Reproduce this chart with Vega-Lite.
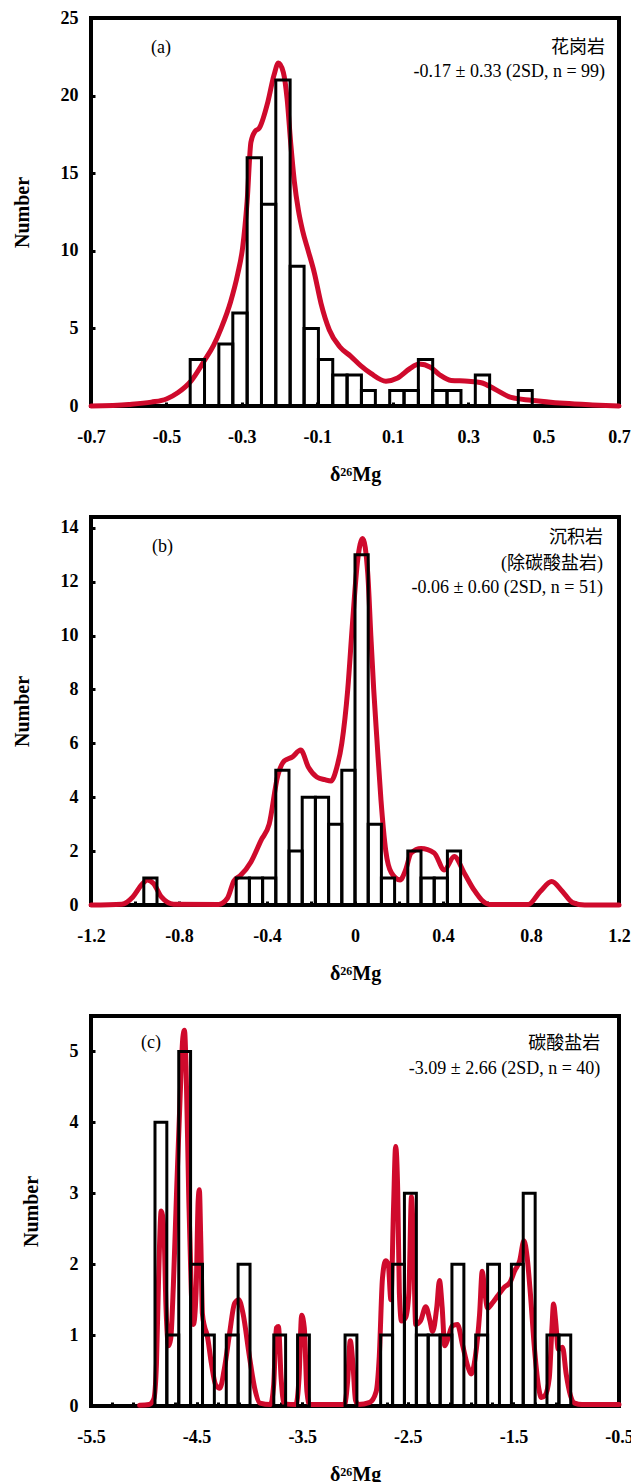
{
  "$schema": "https://vega.github.io/schema/vega-lite/v6.json",
  "background": "white",
  "padding": {"left": 10, "top": 7, "right": 0, "bottom": 0},
  "spacing": 29,
  "config": {
    "view": {"stroke": "black", "strokeWidth": 4},
    "axis": {
      "domain": false, "grid": false, "ticks": true,
      "tickColor": "black", "tickWidth": 3, "tickSize": -4,
      "labelFont": "Liberation Serif", "labelFontWeight": "bold", "labelFontSize": 18, "labelColor": "black",
      "titleFont": "Liberation Serif", "titleFontWeight": "bold", "titleColor": "black", "titleFontSize": 20,
      "labelFlush": false, "labelOverlap": false, "labelBound": false
    },
    "axisX": {"labelPadding": 26, "titlePadding": 18},
    "axisY": {"labelPadding": 17, "titlePadding": 28}
  },
  "vconcat": [
    {
      "width": 528, "height": 388,
      "layer": [
        {
          "data": {"values": [
            {"d": -0.7, "v": 0}, {"d": -0.6, "v": 0.1}, {"d": -0.54, "v": 0.25}, {"d": -0.5, "v": 0.45}, {"d": -0.47, "v": 0.85},
            {"d": -0.435, "v": 1.6}, {"d": -0.4, "v": 2.9}, {"d": -0.375, "v": 3.9}, {"d": -0.355, "v": 5.0}, {"d": -0.33, "v": 6.7},
            {"d": -0.311, "v": 8.5}, {"d": -0.298, "v": 10.2}, {"d": -0.286, "v": 13.2}, {"d": -0.276, "v": 17.0}, {"d": -0.265, "v": 17.7},
            {"d": -0.254, "v": 17.9}, {"d": -0.231, "v": 19.6}, {"d": -0.215, "v": 21.3}, {"d": -0.203, "v": 22.1}, {"d": -0.19, "v": 21.5},
            {"d": -0.18, "v": 19.8}, {"d": -0.17, "v": 16.8}, {"d": -0.161, "v": 14.5}, {"d": -0.15, "v": 12.6}, {"d": -0.139, "v": 11.3},
            {"d": -0.124, "v": 10.0}, {"d": -0.108, "v": 8.6}, {"d": -0.09, "v": 6.6}, {"d": -0.068, "v": 4.9}, {"d": -0.04, "v": 3.8},
            {"d": -0.011, "v": 3.2}, {"d": 0.015, "v": 2.6}, {"d": 0.042, "v": 2.1}, {"d": 0.082, "v": 1.6}, {"d": 0.113, "v": 1.8},
            {"d": 0.145, "v": 2.4}, {"d": 0.17, "v": 2.7}, {"d": 0.2, "v": 2.5}, {"d": 0.225, "v": 2.0}, {"d": 0.255, "v": 1.65},
            {"d": 0.3, "v": 1.6}, {"d": 0.335, "v": 1.5}, {"d": 0.37, "v": 1.1}, {"d": 0.414, "v": 0.55}, {"d": 0.467, "v": 0.37},
            {"d": 0.555, "v": 0.17}, {"d": 0.63, "v": 0.07}, {"d": 0.7, "v": 0}
          ]},
          "mark": {"type": "line", "color": "#cf0a2c", "strokeWidth": 5, "interpolate": "monotone", "strokeCap": "round"},
          "encoding": {
            "x": {"field": "d", "type": "quantitative", "scale": {"domain": [-0.7, 0.7], "nice": false, "zero": false},
                  "axis": {"title": "δ²⁶Mg", "labelOverlap": false, "values": [-0.7, -0.5, -0.3, -0.1, 0.1, 0.3, 0.5, 0.7],
                           "labelExpr": "replace(format(datum.value, '.1f'), '−', '-')"}},
            "y": {"field": "v", "type": "quantitative", "scale": {"domain": [0, 25], "nice": false},
                  "axis": {"title": "Number", "labelOverlap": false, "values": [0, 5, 10, 15, 20, 25],
                           "labelExpr": "format(datum.value, 'd')"}}
          }
        },
        {
          "data": {"values": [
            {"d0": -0.437, "d1": -0.399, "n": 3}, {"d0": -0.361, "d1": -0.324, "n": 4}, {"d0": -0.324, "d1": -0.286, "n": 6},
            {"d0": -0.286, "d1": -0.248, "n": 16}, {"d0": -0.248, "d1": -0.21, "n": 13}, {"d0": -0.21, "d1": -0.172, "n": 21},
            {"d0": -0.172, "d1": -0.135, "n": 9}, {"d0": -0.135, "d1": -0.097, "n": 5}, {"d0": -0.097, "d1": -0.059, "n": 3},
            {"d0": -0.059, "d1": -0.021, "n": 2}, {"d0": -0.021, "d1": 0.017, "n": 2}, {"d0": 0.017, "d1": 0.054, "n": 1},
            {"d0": 0.092, "d1": 0.13, "n": 1}, {"d0": 0.13, "d1": 0.168, "n": 1}, {"d0": 0.168, "d1": 0.206, "n": 3},
            {"d0": 0.206, "d1": 0.244, "n": 1}, {"d0": 0.244, "d1": 0.281, "n": 1}, {"d0": 0.319, "d1": 0.357, "n": 2},
            {"d0": 0.433, "d1": 0.47, "n": 1}
          ]},
          "mark": {"type": "rect", "fill": "white", "fillOpacity": 0, "stroke": "black", "strokeWidth": 3},
          "encoding": {
            "x": {"field": "d0", "type": "quantitative", "scale": {"domain": [-0.7, 0.7], "nice": false, "zero": false}},
            "x2": {"field": "d1"},
            "y": {"field": "n", "type": "quantitative", "scale": {"domain": [0, 25], "nice": false}},
            "y2": {"datum": 0}
          }
        },
        {
          "data": {"values": [
            {"d": -0.488, "v": 23.09, "t": "(a)"},
            {"d": 0.663, "v": 23.09, "t": "花岗岩"},
            {"d": 0.663, "v": 21.52, "t": "-0.17 ± 0.33 (2SD, n = 99)"}
          ]},
          "mark": {"type": "text", "align": "right", "baseline": "middle", "font": "Liberation Serif, Noto Sans CJK SC", "fontSize": 18, "color": "black"},
          "encoding": {
            "x": {"field": "d", "type": "quantitative", "scale": {"domain": [-0.7, 0.7], "nice": false, "zero": false}},
            "y": {"field": "v", "type": "quantitative", "scale": {"domain": [0, 25], "nice": false}},
            "text": {"field": "t"}
          }
        }
      ]
    },
    {
      "width": 528, "height": 388,
      "layer": [
        {
          "data": {"values": [
            {"d": -1.2, "v": 0}, {"d": -1.06, "v": 0.03}, {"d": -1.01, "v": 0.3}, {"d": -0.97, "v": 0.75}, {"d": -0.944, "v": 0.93},
            {"d": -0.916, "v": 0.8}, {"d": -0.88, "v": 0.3}, {"d": -0.824, "v": 0.03}, {"d": -0.62, "v": 0.02}, {"d": -0.58, "v": 0.25},
            {"d": -0.55, "v": 0.9}, {"d": -0.52, "v": 1.1}, {"d": -0.473, "v": 1.6}, {"d": -0.427, "v": 2.4}, {"d": -0.39, "v": 3.0},
            {"d": -0.351, "v": 4.8}, {"d": -0.321, "v": 5.35}, {"d": -0.284, "v": 5.5}, {"d": -0.247, "v": 5.75}, {"d": -0.211, "v": 5.1},
            {"d": -0.174, "v": 4.75}, {"d": -0.137, "v": 4.65}, {"d": -0.109, "v": 4.6}, {"d": -0.083, "v": 5.1}, {"d": -0.06, "v": 6.0},
            {"d": -0.033, "v": 8.0}, {"d": -0.011, "v": 10.5}, {"d": 0.012, "v": 12.8}, {"d": 0.035, "v": 13.6}, {"d": 0.058, "v": 12.3},
            {"d": 0.072, "v": 10.0}, {"d": 0.085, "v": 8.0}, {"d": 0.1, "v": 6.1}, {"d": 0.118, "v": 3.9}, {"d": 0.14, "v": 2.0},
            {"d": 0.165, "v": 1.2}, {"d": 0.205, "v": 0.93}, {"d": 0.23, "v": 1.3}, {"d": 0.255, "v": 1.93}, {"d": 0.3, "v": 2.1},
            {"d": 0.36, "v": 1.93}, {"d": 0.406, "v": 1.3}, {"d": 0.451, "v": 1.8}, {"d": 0.497, "v": 1.18}, {"d": 0.541, "v": 0.56},
            {"d": 0.58, "v": 0.15}, {"d": 0.61, "v": 0.02}, {"d": 0.787, "v": 0.02}, {"d": 0.842, "v": 0.5}, {"d": 0.894, "v": 0.87},
            {"d": 0.943, "v": 0.5}, {"d": 0.989, "v": 0.09}, {"d": 1.044, "v": 0}, {"d": 1.2, "v": 0}
          ]},
          "mark": {"type": "line", "color": "#cf0a2c", "strokeWidth": 5, "interpolate": "monotone", "strokeCap": "round"},
          "encoding": {
            "x": {"field": "d", "type": "quantitative", "scale": {"domain": [-1.2, 1.2], "nice": false, "zero": false},
                  "axis": {"title": "δ²⁶Mg", "labelOverlap": false,
                           "values": [-1.2, -1.1, -1.0, -0.9, -0.8, -0.7, -0.6, -0.5, -0.4, -0.3, -0.2, -0.1, 0, 0.1, 0.2, 0.3, 0.4, 0.5, 0.6, 0.7, 0.8, 0.9, 1.0, 1.1, 1.2],
                           "labelExpr": "round(datum.value*10) % 4 == 0 ? (abs(datum.value) < 0.001 ? '0' : replace(format(datum.value, '.1f'), '−', '-')) : ''"}},
            "y": {"field": "v", "type": "quantitative", "scale": {"domain": [0, 14.4], "nice": false},
                  "axis": {"title": "Number", "labelOverlap": false, "values": [0, 1, 2, 3, 4, 5, 6, 7, 8, 9, 10, 11, 12, 13, 14],
                           "labelExpr": "datum.value % 2 == 0 ? format(datum.value, 'd') : ''"}}
          }
        },
        {
          "data": {"values": [
            {"d0": -0.96, "d1": -0.9, "n": 1}, {"d0": -0.54, "d1": -0.48, "n": 1}, {"d0": -0.48, "d1": -0.42, "n": 1},
            {"d0": -0.42, "d1": -0.36, "n": 1}, {"d0": -0.36, "d1": -0.3, "n": 5}, {"d0": -0.3, "d1": -0.24, "n": 2},
            {"d0": -0.24, "d1": -0.18, "n": 4}, {"d0": -0.18, "d1": -0.12, "n": 4}, {"d0": -0.12, "d1": -0.06, "n": 3},
            {"d0": -0.06, "d1": 0, "n": 5}, {"d0": 0, "d1": 0.06, "n": 13}, {"d0": 0.06, "d1": 0.12, "n": 3},
            {"d0": 0.12, "d1": 0.18, "n": 1}, {"d0": 0.24, "d1": 0.3, "n": 2}, {"d0": 0.3, "d1": 0.36, "n": 1},
            {"d0": 0.36, "d1": 0.42, "n": 1}, {"d0": 0.42, "d1": 0.48, "n": 2}
          ]},
          "mark": {"type": "rect", "fill": "white", "fillOpacity": 0, "stroke": "black", "strokeWidth": 3},
          "encoding": {
            "x": {"field": "d0", "type": "quantitative", "scale": {"domain": [-1.2, 1.2], "nice": false, "zero": false}},
            "x2": {"field": "d1"},
            "y": {"field": "n", "type": "quantitative", "scale": {"domain": [0, 14.4], "nice": false}},
            "y2": {"datum": 0}
          }
        },
        {
          "data": {"values": [
            {"d": -0.827, "v": 13.3, "t": "(b)"},
            {"d": 1.127, "v": 13.61, "t": "沉积岩"},
            {"d": 1.127, "v": 12.66, "t": "(除碳酸盐岩)"},
            {"d": 1.127, "v": 11.76, "t": "-0.06 ± 0.60 (2SD, n = 51)"}
          ]},
          "mark": {"type": "text", "align": "right", "baseline": "middle", "font": "Liberation Serif, Noto Sans CJK SC", "fontSize": 18, "color": "black"},
          "encoding": {
            "x": {"field": "d", "type": "quantitative", "scale": {"domain": [-1.2, 1.2], "nice": false, "zero": false}},
            "y": {"field": "v", "type": "quantitative", "scale": {"domain": [0, 14.4], "nice": false}},
            "text": {"field": "t"}
          }
        }
      ]
    },
    {
      "width": 528, "height": 390,
      "resolve": {"axis": {"x": "independent"}},
      "layer": [
        {
          "data": {"values": [
            {"d": -5.04, "v": 0.01}, {"d": -4.95, "v": 0.02}, {"d": -4.905, "v": 0.1}, {"d": -4.88, "v": 0.6}, {"d": -4.86, "v": 1.8},
            {"d": -4.835, "v": 2.75}, {"d": -4.81, "v": 2.5}, {"d": -4.79, "v": 1.4}, {"d": -4.765, "v": 0.85}, {"d": -4.745, "v": 0.95},
            {"d": -4.72, "v": 1.7}, {"d": -4.69, "v": 3.0}, {"d": -4.655, "v": 4.4}, {"d": -4.63, "v": 5.2}, {"d": -4.615, "v": 5.3},
            {"d": -4.6, "v": 4.8}, {"d": -4.575, "v": 3.0}, {"d": -4.55, "v": 1.6}, {"d": -4.53, "v": 1.15}, {"d": -4.505, "v": 1.6},
            {"d": -4.485, "v": 2.9}, {"d": -4.474, "v": 3.05}, {"d": -4.46, "v": 2.3}, {"d": -4.445, "v": 1.3}, {"d": -4.425, "v": 1.12},
            {"d": -4.4, "v": 1.0}, {"d": -4.36, "v": 0.6}, {"d": -4.32, "v": 0.3}, {"d": -4.28, "v": 0.25}, {"d": -4.24, "v": 0.5},
            {"d": -4.19, "v": 1.0}, {"d": -4.14, "v": 1.45}, {"d": -4.1, "v": 1.5}, {"d": -4.06, "v": 1.3}, {"d": -4.0, "v": 0.7},
            {"d": -3.95, "v": 0.25}, {"d": -3.9, "v": 0.04}, {"d": -3.8, "v": 0.02}, {"d": -3.77, "v": 0.3}, {"d": -3.745, "v": 1.1},
            {"d": -3.725, "v": 1.12}, {"d": -3.7, "v": 0.4}, {"d": -3.67, "v": 0.03}, {"d": -3.56, "v": 0.02}, {"d": -3.53, "v": 0.4},
            {"d": -3.505, "v": 1.28}, {"d": -3.48, "v": 1.1}, {"d": -3.455, "v": 0.2}, {"d": -3.43, "v": 0.02}, {"d": -3.1, "v": 0.02},
            {"d": -3.07, "v": 0.35}, {"d": -3.045, "v": 0.92}, {"d": -3.02, "v": 0.6}, {"d": -2.995, "v": 0.08}, {"d": -2.97, "v": 0.02},
            {"d": -2.86, "v": 0.05}, {"d": -2.8, "v": 0.2}, {"d": -2.77, "v": 0.7}, {"d": -2.74, "v": 1.8}, {"d": -2.71, "v": 2.05},
            {"d": -2.685, "v": 2.0}, {"d": -2.66, "v": 1.5}, {"d": -2.635, "v": 2.8}, {"d": -2.615, "v": 3.66}, {"d": -2.595, "v": 3.0},
            {"d": -2.58, "v": 1.6}, {"d": -2.56, "v": 1.2}, {"d": -2.52, "v": 1.25}, {"d": -2.49, "v": 1.6}, {"d": -2.465, "v": 2.95},
            {"d": -2.445, "v": 2.2}, {"d": -2.425, "v": 1.15}, {"d": -2.38, "v": 1.2}, {"d": -2.33, "v": 1.4}, {"d": -2.29, "v": 1.2},
            {"d": -2.265, "v": 1.05}, {"d": -2.225, "v": 1.4}, {"d": -2.2, "v": 1.77}, {"d": -2.175, "v": 1.4}, {"d": -2.15, "v": 0.85},
            {"d": -2.12, "v": 0.95}, {"d": -2.08, "v": 1.13}, {"d": -2.03, "v": 1.15}, {"d": -1.98, "v": 0.85}, {"d": -1.93, "v": 0.55},
            {"d": -1.9, "v": 0.45}, {"d": -1.86, "v": 0.7}, {"d": -1.82, "v": 1.3}, {"d": -1.795, "v": 1.9}, {"d": -1.77, "v": 1.6},
            {"d": -1.745, "v": 1.38}, {"d": -1.7, "v": 1.45}, {"d": -1.65, "v": 1.55}, {"d": -1.59, "v": 1.67}, {"d": -1.53, "v": 1.75},
            {"d": -1.49, "v": 1.9}, {"d": -1.44, "v": 2.05}, {"d": -1.4, "v": 2.33}, {"d": -1.37, "v": 2.1}, {"d": -1.34, "v": 1.6},
            {"d": -1.3, "v": 0.8}, {"d": -1.26, "v": 0.25}, {"d": -1.235, "v": 0.12}, {"d": -1.2, "v": 0.15}, {"d": -1.16, "v": 0.4},
            {"d": -1.135, "v": 1.1}, {"d": -1.12, "v": 1.44}, {"d": -1.1, "v": 1.2}, {"d": -1.075, "v": 0.8}, {"d": -1.035, "v": 0.83},
            {"d": -1.0, "v": 0.45}, {"d": -0.96, "v": 0.15}, {"d": -0.92, "v": 0.04}, {"d": -0.85, "v": 0.02}, {"d": -0.5, "v": 0.02}
          ]},
          "mark": {"type": "line", "color": "#cf0a2c", "strokeWidth": 5, "interpolate": "monotone", "strokeCap": "round"},
          "encoding": {
            "x": {"field": "d", "type": "quantitative", "scale": {"domain": [-5.5, -0.5], "nice": false, "zero": false},
                  "axis": {"orient": "bottom", "title": null, "labels": false,
                           "values": [-5.5, -5.3, -5.1, -4.9, -4.7, -4.5, -4.3, -4.1, -3.9, -3.7, -3.5, -3.3, -3.1, -2.9, -2.7, -2.5, -2.3, -2.1, -1.9, -1.7, -1.5, -1.3, -1.1, -0.9, -0.7, -0.5]}},
            "y": {"field": "v", "type": "quantitative", "scale": {"domain": [0, 5.5], "nice": false},
                  "axis": {"title": "Number", "labelOverlap": false, "values": [0, 1, 2, 3, 4, 5],
                           "labelExpr": "format(datum.value, 'd')"}}
          }
        },
        {
          "data": {"values": [
            {"d0": -4.894, "d1": -4.782, "n": 4}, {"d0": -4.782, "d1": -4.669, "n": 1}, {"d0": -4.669, "d1": -4.557, "n": 5},
            {"d0": -4.557, "d1": -4.444, "n": 2}, {"d0": -4.444, "d1": -4.332, "n": 1}, {"d0": -4.219, "d1": -4.107, "n": 1},
            {"d0": -4.107, "d1": -3.994, "n": 2}, {"d0": -3.769, "d1": -3.657, "n": 1}, {"d0": -3.544, "d1": -3.432, "n": 1},
            {"d0": -3.094, "d1": -2.982, "n": 1}, {"d0": -2.757, "d1": -2.644, "n": 1}, {"d0": -2.644, "d1": -2.532, "n": 2},
            {"d0": -2.532, "d1": -2.419, "n": 3}, {"d0": -2.419, "d1": -2.307, "n": 1}, {"d0": -2.307, "d1": -2.194, "n": 1},
            {"d0": -2.194, "d1": -2.082, "n": 1}, {"d0": -2.082, "d1": -1.969, "n": 2}, {"d0": -1.857, "d1": -1.744, "n": 1},
            {"d0": -1.744, "d1": -1.632, "n": 2}, {"d0": -1.519, "d1": -1.407, "n": 2}, {"d0": -1.407, "d1": -1.294, "n": 3},
            {"d0": -1.182, "d1": -1.069, "n": 1}, {"d0": -1.069, "d1": -0.957, "n": 1}
          ]},
          "mark": {"type": "rect", "fill": "white", "fillOpacity": 0, "stroke": "black", "strokeWidth": 3},
          "encoding": {
            "x": {"field": "d0", "type": "quantitative", "scale": {"domain": [-5.5, -0.5], "nice": false, "zero": false},
                  "axis": {"orient": "bottom", "title": "δ²⁶Mg", "labelOverlap": false,
                           "values": [-5.5, -4.5, -3.5, -2.5, -1.5, -0.5],
                           "labelExpr": "replace(format(datum.value, '.1f'), '−', '-')"}},
            "x2": {"field": "d1"},
            "y": {"field": "n", "type": "quantitative", "scale": {"domain": [0, 5.5], "nice": false}},
            "y2": {"datum": 0}
          }
        },
        {
          "data": {"values": [
            {"d": -4.837, "v": 5.12, "t": "(c)"},
            {"d": -0.677, "v": 5.1, "t": "碳酸盐岩"},
            {"d": -0.677, "v": 4.75, "t": "-3.09 ± 2.66 (2SD, n = 40)"}
          ]},
          "mark": {"type": "text", "align": "right", "baseline": "middle", "font": "Liberation Serif, Noto Sans CJK SC", "fontSize": 18, "color": "black"},
          "encoding": {
            "x": {"field": "d", "type": "quantitative", "scale": {"domain": [-5.5, -0.5], "nice": false, "zero": false}, "axis": null},
            "y": {"field": "v", "type": "quantitative", "scale": {"domain": [0, 5.5], "nice": false}},
            "text": {"field": "t"}
          }
        }
      ]
    }
  ]
}
